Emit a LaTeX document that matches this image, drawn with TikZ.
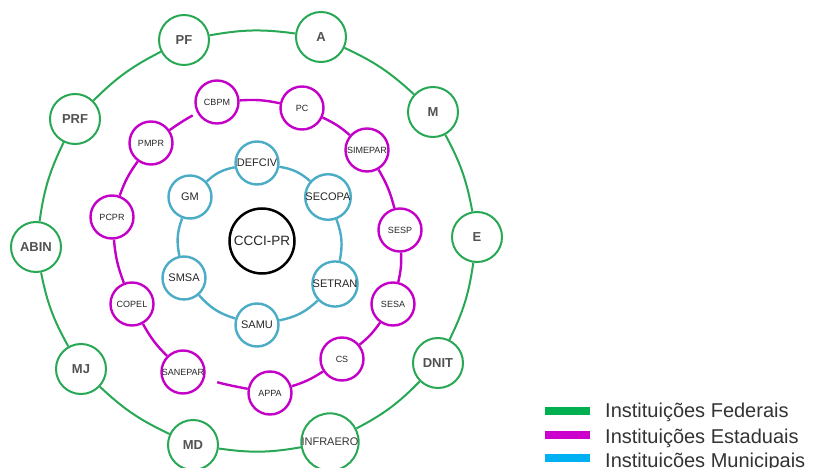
\documentclass[tikz,border=0pt]{standalone}
\usepackage{fontspec}
\setmainfont{Liberation Sans}
\definecolor{fedgreen}{RGB}{40,168,84}
\definecolor{estmag}{RGB}{196,0,200}
\definecolor{munblue}{RGB}{75,172,198}
\definecolor{legGreen}{RGB}{0,176,80}
\definecolor{legMag}{RGB}{204,0,204}
\definecolor{legBlue}{RGB}{0,176,240}
\begin{document}
\begin{tikzpicture}[x=1pt,y=-1pt,
  fed/.style={circle, draw=fedgreen, line width=2pt, fill=white, minimum size=50pt, inner sep=0pt,
    font=\fontsize{13}{15}\selectfont\bfseries, text=black!68},
  est/.style={circle, draw=estmag, line width=2.4pt, fill=white, minimum size=43pt, inner sep=0pt,
    font=\fontsize{9}{10}\selectfont, text=black!85},
  mun/.style={circle, draw=munblue, line width=2.4pt, fill=white, minimum size=43pt, inner sep=0pt,
    font=\fontsize{11}{12}\selectfont, text=black!85},
  fedline/.style={draw=fedgreen, line width=2pt, bend left=9},
  estline/.style={draw=estmag, line width=2.4pt, bend left=8},
  munline/.style={draw=munblue, line width=2.4pt, bend left=16},
  legbar/.style={minimum width=45pt, minimum height=8pt, inner sep=0pt},
  legtext/.style={anchor=base west, font=\fontsize{20}{24}\selectfont, text=black!80, inner sep=0pt}
]
\useasboundingbox (0,0) rectangle (815,468);

% Federal
\node[fed] (PF) at (184,40) {PF};
\node[fed] (A) at (321,37) {A};
\node[fed] (M) at (433,112) {M};
\node[fed] (E) at (477,237) {E};
\node[fed] (DNIT) at (438,363) {DNIT};
\node[fed, font=\fontsize{11}{12}\selectfont, text=black!80] (INFRAERO) at (330,442) {INFRAERO};
\node[fed] (MD) at (193,445) {MD};
\node[fed] (MJ) at (81,369) {MJ};
\node[fed] (ABIN) at (36,247) {ABIN};
\node[fed] (PRF) at (75,119) {PRF};

% Estaduais
\node[est] (CBPM) at (217,102) {CBPM};
\node[est] (PC) at (302,108) {PC};
\node[est] (SIMEPAR) at (367,150) {SIMEPAR};
\node[est] (SESP) at (400,230) {SESP};
\node[est] (SESA) at (393,304) {SESA};
\node[est] (CS) at (342,359) {CS};
\node[est] (APPA) at (270,393) {APPA};
\node[est] (SANEPAR) at (183,372) {SANEPAR};
\node[est] (COPEL) at (132,304) {COPEL};
\node[est] (PCPR) at (112,217) {PCPR};
\node[est] (PMPR) at (151,143) {PMPR};

% Municipais
\node[mun] (DEFCIV) at (257,163) {DEFCIV};
\node[mun] (SECOPA) at (328,197) {SECOPA};
\node[mun] (SETRAN) at (335,284) {SETRAN};
\node[mun] (SAMU) at (257,325) {SAMU};
\node[mun] (SMSA) at (184,278) {SMSA};
\node[mun] (GM) at (190,197) {GM};

\node[circle, draw=black, line width=2.5pt, fill=white, minimum size=65pt, inner sep=0pt,
  font=\fontsize{13.5}{15}\selectfont, text=black!85] (CCCI) at (262,241) {CCCI-PR};

% Federal ring
\foreach \a/\b in {PF/A, A/M, M/E, E/DNIT, DNIT/INFRAERO, INFRAERO/MD, MD/MJ, MJ/ABIN, ABIN/PRF, PRF/PF}
  \draw[fedline] (\a) to (\b);

% Estadual ring
\foreach \a/\b in {CBPM/PC, PC/SIMEPAR, SIMEPAR/SESP, SESP/SESA, SESA/CS, CS/APPA, SANEPAR/COPEL, COPEL/PCPR, PCPR/PMPR}
  \draw[estline] (\a) to (\b);
\draw[estline, bend left=3, shorten >=13pt] (APPA) to (SANEPAR);
\draw[estline, bend left=3, shorten >=5pt] (PMPR) to (CBPM);

% Municipal ring
\foreach \a/\b in {DEFCIV/SECOPA, SECOPA/SETRAN, SETRAN/SAMU, SAMU/SMSA, SMSA/GM, GM/DEFCIV}
  \draw[munline] (\a) to (\b);

% Legend
\node[legbar, fill=legGreen] (lg1) at (567.5,411) {};
\node[legbar, fill=legMag] (lg2) at (567.5,435) {};
\node[legbar, fill=legBlue] (lg3) at (567.5,458) {};
\node[legtext] (lt1) at (605,417) {Instituições Federais};
\node[legtext] (lt2) at (605,443) {Instituições Estaduais};
\node[legtext] (lt3) at (605,467) {Instituicões Municipais};
\end{tikzpicture}
\end{document}
